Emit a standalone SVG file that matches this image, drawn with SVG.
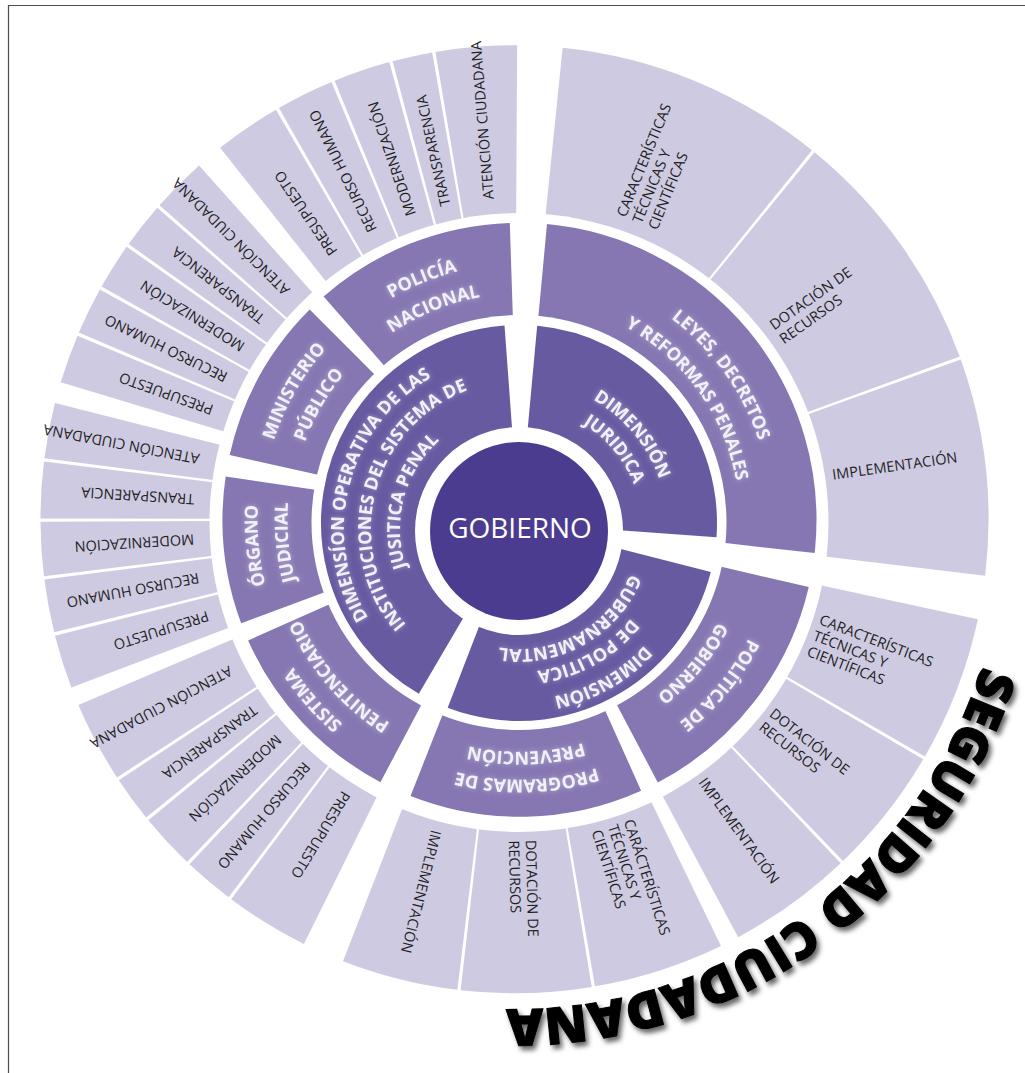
<svg xmlns="http://www.w3.org/2000/svg" width="1025" height="1073" viewBox="0 0 1025 1073">
<defs>
<style>
.r1{fill:none;stroke:#675aa1;stroke-width:104}
.r2{fill:none;stroke:#8677b2;stroke-width:94}
.r3{fill:none;stroke:#cecae2;stroke-width:174}
.lb{font-family:"Open Sans","DejaVu Sans",sans-serif;font-weight:700;font-size:18px;fill:#f2f0f8;text-anchor:middle;filter:url(#glow)}
.t3{font-family:"Open Sans","Liberation Sans",sans-serif;font-size:14.5px;fill:#1f1f1f}
.wd{fill:#fff}
</style>
<filter id="glow" x="-20%" y="-40%" width="140%" height="180%">
<feGaussianBlur in="SourceAlpha" stdDeviation="2.5" result="b"/>
<feFlood flood-color="#ffffff" flood-opacity="0.45"/>
<feComposite in2="b" operator="in" result="g"/>
<feMerge><feMergeNode in="g"/><feMergeNode in="SourceGraphic"/></feMerge>
</filter>
<filter id="shadow" x="-10%" y="-10%" width="125%" height="125%">
<feDropShadow dx="3" dy="4" stdDeviation="2.5" flood-color="#000" flood-opacity="0.6"/>
</filter>
<path id="a119" d="M638 529A119 119 0 1 1 400 529A119 119 0 1 1 638 529A119 119 0 1 1 400 529A119 119 0 1 1 638 529"/>
<path id="a120" d="M639 529A120 120 0 1 1 399 529A120 120 0 1 1 639 529A120 120 0 1 1 399 529A120 120 0 1 1 639 529"/>
<path id="a123" d="M642 529A123 123 0 1 1 396 529A123 123 0 1 1 642 529A123 123 0 1 1 396 529A123 123 0 1 1 642 529"/>
<path id="a143" d="M662 529A143 143 0 1 1 376 529A143 143 0 1 1 662 529A143 143 0 1 1 376 529A143 143 0 1 1 662 529"/>
<path id="a148" d="M667 529A148 148 0 1 1 371 529A148 148 0 1 1 667 529A148 148 0 1 1 371 529A148 148 0 1 1 667 529"/>
<path id="a149" d="M668 529A149 149 0 1 1 370 529A149 149 0 1 1 668 529A149 149 0 1 1 370 529A149 149 0 1 1 668 529"/>
<path id="a171" d="M690 529A171 171 0 1 1 348 529A171 171 0 1 1 690 529A171 171 0 1 1 348 529A171 171 0 1 1 690 529"/>
<path id="a175" d="M694 529A175 175 0 1 1 344 529A175 175 0 1 1 694 529A175 175 0 1 1 344 529A175 175 0 1 1 694 529"/>
<path id="b220" d="M739.5 519.75A220 220 0 1 1 299.5 519.75A220 220 0 1 1 739.5 519.75A220 220 0 1 1 299.5 519.75A220 220 0 1 1 739.5 519.75"/>
<path id="b223" d="M742.5 519.75A223 223 0 1 1 296.5 519.75A223 223 0 1 1 742.5 519.75A223 223 0 1 1 296.5 519.75A223 223 0 1 1 742.5 519.75"/>
<path id="b226" d="M745.5 519.75A226 226 0 1 1 293.5 519.75A226 226 0 1 1 745.5 519.75A226 226 0 1 1 293.5 519.75A226 226 0 1 1 745.5 519.75"/>
<path id="b228" d="M747.5 519.75A228 228 0 1 1 291.5 519.75A228 228 0 1 1 747.5 519.75A228 228 0 1 1 291.5 519.75A228 228 0 1 1 747.5 519.75"/>
<path id="b232" d="M751.5 519.75A232 232 0 1 1 287.5 519.75A232 232 0 1 1 751.5 519.75A232 232 0 1 1 287.5 519.75A232 232 0 1 1 751.5 519.75"/>
<path id="b241" d="M760.5 519.75A241 241 0 1 1 278.5 519.75A241 241 0 1 1 760.5 519.75A241 241 0 1 1 278.5 519.75A241 241 0 1 1 760.5 519.75"/>
<path id="b252" d="M771.5 519.75A252 252 0 1 1 267.5 519.75A252 252 0 1 1 771.5 519.75A252 252 0 1 1 267.5 519.75A252 252 0 1 1 771.5 519.75"/>
<path id="b256" d="M775.5 519.75A256 256 0 1 1 263.5 519.75A256 256 0 1 1 775.5 519.75A256 256 0 1 1 263.5 519.75A256 256 0 1 1 775.5 519.75"/>
<path id="b258" d="M777.5 519.75A258 258 0 1 1 261.5 519.75A258 258 0 1 1 777.5 519.75A258 258 0 1 1 261.5 519.75A258 258 0 1 1 777.5 519.75"/>
<path id="b260" d="M779.5 519.75A260 260 0 1 1 259.5 519.75A260 260 0 1 1 779.5 519.75A260 260 0 1 1 259.5 519.75A260 260 0 1 1 779.5 519.75"/>
<path id="b262" d="M781.5 519.75A262 262 0 1 1 257.5 519.75A262 262 0 1 1 781.5 519.75A262 262 0 1 1 257.5 519.75A262 262 0 1 1 781.5 519.75"/>
<path id="b270" d="M789.5 519.75A270 270 0 1 1 249.5 519.75A270 270 0 1 1 789.5 519.75A270 270 0 1 1 249.5 519.75A270 270 0 1 1 789.5 519.75"/>
<path id="c490" d="M1004.5 519.25A490 490 0 1 1 24.5 519.25A490 490 0 1 1 1004.5 519.25A490 490 0 1 1 24.5 519.25A490 490 0 1 1 1004.5 519.25"/>
</defs>
<rect width="1025" height="1073" fill="#fff"/>
<path d="M8.5 1073V5.5H1025" fill="none" stroke="#4d4d4d" stroke-width="1.2"/>

<!-- outer ring -->
<g id="n-leyes-caracteristicas"><circle class="r3" cx="514.5" cy="519.25" r="387" stroke-dasharray="223.17 3000" transform="rotate(-84.17 514.5 519.25)"/>
<text class="t3" transform="rotate(-67.65 514.5 519.25)"><tspan x="835.5" y="507.5">CARACTERÍSTICAS</tspan><tspan x="835.5" y="524.5">TÉCNICAS Y</tspan><tspan x="835.5" y="541.5">CIENTÍFICAS</tspan></text></g>
<g id="n-leyes-dotacion"><circle class="r3" cx="514.5" cy="519.25" r="387" stroke-dasharray="206.96 3000" transform="rotate(-50.73 514.5 519.25)"/>
<text class="t3" transform="rotate(-35.41 514.5 519.25)"><tspan x="835.5" y="516">DOTACIÓN DE</tspan><tspan x="835.5" y="533">RECURSOS</tspan></text></g>
<g id="n-leyes-implementacion"><circle class="r3" cx="514.5" cy="519.25" r="387" stroke-dasharray="179.13 3000" transform="rotate(-19.69 514.5 519.25)"/>
<text class="t3" transform="rotate(-8 514.5 519.25)" x="835.5" y="524.5">IMPLEMENTACIÓN</text></g>

<g id="n-politica-caracteristicas"><circle class="r3" cx="514.5" cy="519.25" r="387" stroke-dasharray="120.63 3000" transform="rotate(12.17 514.5 519.25)"/>
<text class="t3" transform="rotate(21.1 514.5 519.25)"><tspan x="835.5" y="507.5">CARACTERÍSTICAS</tspan><tspan x="835.5" y="524.5">TÉCNICAS Y</tspan><tspan x="835.5" y="541.5">CIENTÍFICAS</tspan></text></g>
<g id="n-politica-dotacion"><circle class="r3" cx="514.5" cy="519.25" r="387" stroke-dasharray="105.98 3000" transform="rotate(30.43 514.5 519.25)"/>
<text class="t3" transform="rotate(38.28 514.5 519.25)"><tspan x="835.5" y="516">DOTACIÓN DE</tspan><tspan x="835.5" y="533">RECURSOS</tspan></text></g>
<g id="n-politica-implementacion"><circle class="r3" cx="514.5" cy="519.25" r="387" stroke-dasharray="103.48 3000" transform="rotate(46.52 514.5 519.25)"/>
<text class="t3" transform="rotate(54.18 514.5 519.25)" x="835.5" y="524.5">IMPLEMENTACIÓN</text></g>

<g id="n-programas-caracteristicas"><circle class="r3" cx="514.5" cy="519.25" r="387" stroke-dasharray="108.34 3000" transform="rotate(64.18 514.5 519.25)"/>
<text class="t3" transform="rotate(72.2 514.5 519.25)"><tspan x="835.5" y="507.5">CARÁCTERÍSTICAS</tspan><tspan x="835.5" y="524.5">TÉCNICAS Y</tspan><tspan x="835.5" y="541.5">CIENTÍFICAS</tspan></text></g>
<g id="n-programas-dotacion"><circle class="r3" cx="514.5" cy="519.25" r="387" stroke-dasharray="107.39 3000" transform="rotate(80.62 514.5 519.25)"/>
<text class="t3" transform="rotate(88.57 514.5 519.25)"><tspan x="835.5" y="516">DOTACIÓN DE</tspan><tspan x="835.5" y="533">RECURSOS</tspan></text></g>
<g id="n-programas-implementacion"><circle class="r3" cx="514.5" cy="519.25" r="387" stroke-dasharray="96.59 3000" transform="rotate(96.92 514.5 519.25)"/>
<text class="t3" transform="rotate(104.07 514.5 519.25)" x="835.5" y="524.5">IMPLEMENTACIÓN</text></g>

<g id="n-sistema-presupuesto"><circle class="r3" cx="514.5" cy="519.25" r="387" stroke-dasharray="69.71 3000" transform="rotate(116.38 514.5 519.25)"/>
<text class="t3" transform="rotate(121.54 514.5 519.25)" x="835.5" y="524.5">PRESUPUESTO</text></g>
<g id="n-sistema-recurso"><circle class="r3" cx="514.5" cy="519.25" r="387" stroke-dasharray="41.88 3000" transform="rotate(127.1 514.5 519.25)"/>
<text class="t3" transform="rotate(130.2 514.5 519.25)" x="835.5" y="524.5">RECURSO HUMANO</text></g>
<g id="n-sistema-modernizacion"><circle class="r3" cx="514.5" cy="519.25" r="387" stroke-dasharray="46.61 3000" transform="rotate(133.7 514.5 519.25)"/>
<text class="t3" transform="rotate(137.15 514.5 519.25)" x="835.5" y="524.5">MODERNIZACIÓN</text></g>
<g id="n-sistema-transparencia"><circle class="r3" cx="514.5" cy="519.25" r="387" stroke-dasharray="37.82 3000" transform="rotate(141 514.5 519.25)"/>
<text class="t3" transform="rotate(143.8 514.5 519.25)" x="835.5" y="524.5">TRANSPARENCIA</text></g>
<g id="n-sistema-atencion"><circle class="r3" cx="514.5" cy="519.25" r="387" stroke-dasharray="67.14 3000" transform="rotate(147 514.5 519.25)"/>
<text class="t3" transform="rotate(151.97 514.5 519.25)" x="835.5" y="524.5">ATENCIÓN CIUDADANA</text></g>

<g id="n-organo-presupuesto"><circle class="r3" cx="514.5" cy="519.25" r="387" stroke-dasharray="44.58 3000" transform="rotate(159.2 514.5 519.25)"/>
<text class="t3" transform="rotate(162.5 514.5 519.25)" x="835.5" y="524.5">PRESUPUESTO</text></g>
<g id="n-organo-recurso"><circle class="r3" cx="514.5" cy="519.25" r="387" stroke-dasharray="43.9 3000" transform="rotate(166.2 514.5 519.25)"/>
<text class="t3" transform="rotate(169.45 514.5 519.25)" x="835.5" y="524.5">RECURSO HUMANO</text></g>
<g id="n-organo-modernizacion"><circle class="r3" cx="514.5" cy="519.25" r="387" stroke-dasharray="44.58 3000" transform="rotate(173.1 514.5 519.25)"/>
<text class="t3" transform="rotate(176.4 514.5 519.25)" x="835.5" y="524.5">MODERNIZACIÓN</text></g>
<g id="n-organo-transparencia"><circle class="r3" cx="514.5" cy="519.25" r="387" stroke-dasharray="46.61 3000" transform="rotate(180.1 514.5 519.25)"/>
<text class="t3" transform="rotate(183.55 514.5 519.25)" x="835.5" y="524.5">TRANSPARENCIA</text></g>
<g id="n-organo-atencion"><circle class="r3" cx="514.5" cy="519.25" r="387" stroke-dasharray="45.93 3000" transform="rotate(187.4 514.5 519.25)"/>
<text class="t3" transform="rotate(190.8 514.5 519.25)" x="835.5" y="524.5">ATENCIÓN CIUDADANA</text></g>

<g id="n-ministerio-presupuesto"><circle class="r3" cx="514.5" cy="519.25" r="387" stroke-dasharray="40.53 3000" transform="rotate(196.8 514.5 519.25)"/>
<text class="t3" transform="rotate(199.8 514.5 519.25)" x="835.5" y="524.5">PRESUPUESTO</text></g>
<g id="n-ministerio-recurso"><circle class="r3" cx="514.5" cy="519.25" r="387" stroke-dasharray="39.18 3000" transform="rotate(203.2 514.5 519.25)"/>
<text class="t3" transform="rotate(206.1 514.5 519.25)" x="835.5" y="524.5">RECURSO HUMANO</text></g>
<g id="n-ministerio-modernizacion"><circle class="r3" cx="514.5" cy="519.25" r="387" stroke-dasharray="38.5 3000" transform="rotate(209.4 514.5 519.25)"/>
<text class="t3" transform="rotate(212.25 514.5 519.25)" x="835.5" y="524.5">MODERNIZACIÓN</text></g>
<g id="n-ministerio-transparencia"><circle class="r3" cx="514.5" cy="519.25" r="387" stroke-dasharray="37.82 3000" transform="rotate(215.5 514.5 519.25)"/>
<text class="t3" transform="rotate(218.3 514.5 519.25)" x="835.5" y="524.5">TRANSPARENCIA</text></g>
<g id="n-ministerio-atencion"><circle class="r3" cx="514.5" cy="519.25" r="387" stroke-dasharray="45.93 3000" transform="rotate(221.5 514.5 519.25)"/>
<text class="t3" transform="rotate(224.9 514.5 519.25)" x="835.5" y="524.5">ATENCIÓN CIUDADANA</text></g>

<g id="n-policia-presupuesto"><circle class="r3" cx="514.5" cy="519.25" r="387" stroke-dasharray="55.39 3000" transform="rotate(231.6 514.5 519.25)"/>
<text class="t3" transform="rotate(235.7 514.5 519.25)" x="835.5" y="524.5">PRESUPUESTO</text></g>
<g id="n-policia-recurso"><circle class="r3" cx="514.5" cy="519.25" r="387" stroke-dasharray="47.96 3000" transform="rotate(240.2 514.5 519.25)"/>
<text class="t3" transform="rotate(243.75 514.5 519.25)" x="835.5" y="524.5">RECURSO HUMANO</text></g>
<g id="n-policia-modernizacion"><circle class="r3" cx="514.5" cy="519.25" r="387" stroke-dasharray="47.28 3000" transform="rotate(247.7 514.5 519.25)"/>
<text class="t3" transform="rotate(251.2 514.5 519.25)" x="835.5" y="524.5">MODERNIZACIÓN</text></g>
<g id="n-policia-transparencia"><circle class="r3" cx="514.5" cy="519.25" r="387" stroke-dasharray="33.1 3000" transform="rotate(255.1 514.5 519.25)"/>
<text class="t3" transform="rotate(257.55 514.5 519.25)" x="835.5" y="524.5">TRANSPARENCIA</text></g>
<g id="n-policia-atencion"><circle class="r3" cx="514.5" cy="519.25" r="387" stroke-dasharray="67 3000" transform="rotate(260.4 514.5 519.25)"/>
<text class="t3" transform="rotate(265.36 514.5 519.25)" x="835.5" y="524.5">ATENCIÓN CIUDADANA</text></g>

<circle class="wd" cx="519" cy="522.5" r="309.5"/>

<!-- middle ring -->
<g id="n-leyes"><circle class="r2" cx="519.5" cy="519.75" r="250" stroke-dasharray="397.59 3000" transform="rotate(-84.69 519.5 519.75)"/>
<text class="lb"><textPath href="#b252" startOffset="1425.91">LEYES, DECRETOS</textPath></text>
<text class="lb"><textPath href="#b220" startOffset="1244.84">Y REFORMAS PENALES</textPath></text></g>
<g id="n-politica-gobierno"><circle class="r2" cx="519.5" cy="519.75" r="250" stroke-dasharray="214.28 3000" transform="rotate(13.11 519.5 519.75)"/>
<text class="lb"><textPath href="#b258" startOffset="1798.93">POLÍTICA DE</textPath></text>
<text class="lb"><textPath href="#b223" startOffset="1554.89">GOBIERNO</textPath></text></g>
<g id="n-programas"><circle class="r2" cx="519.5" cy="519.75" r="250" stroke-dasharray="199.36 3000" transform="rotate(65.82 519.5 519.75)"/>
<text class="lb"><textPath href="#b260" startOffset="2033.87">PROGRAMAS DE</textPath></text>
<text class="lb"><textPath href="#b232" startOffset="1814.84">PREVENCIÓN</textPath></text></g>
<g id="n-sistema-penitenciario"><circle class="r2" cx="519.5" cy="519.75" r="250" stroke-dasharray="166.24 3000" transform="rotate(117.92 519.5 519.75)"/>
<text class="lb"><textPath href="#b270" startOffset="2350.54">SISTEMA</textPath></text>
<text class="lb"><textPath href="#b241" startOffset="2098.07">PENITENCIARIO</textPath></text></g>
<g id="n-organo-judicial"><circle class="r2" cx="519.5" cy="519.75" r="250" stroke-dasharray="125.53 3000" transform="rotate(159.58 519.5 519.75)"/>
<text class="lb"><textPath href="#b262" startOffset="2443.23">ÓRGANO</textPath></text>
<text class="lb"><textPath href="#b232" startOffset="2163.47">JUDICIAL</textPath></text></g>
<g id="n-ministerio-publico"><circle class="r2" cx="519.5" cy="519.75" r="250" stroke-dasharray="141.63 3000" transform="rotate(192.58 519.5 519.75)"/>
<text class="lb"><textPath href="#b258" startOffset="2564.88">MINISTERIO</textPath></text>
<text class="lb"><textPath href="#b228" startOffset="2266.64">PÚBLICO</textPath></text></g>
<g id="n-policia-nacional"><circle class="r2" cx="519.5" cy="519.75" r="250" stroke-dasharray="171.78 3000" transform="rotate(228.74 519.5 519.75)"/>
<text class="lb"><textPath href="#b256" startOffset="2715.23">POLICÍA</textPath></text>
<text class="lb"><textPath href="#b226" startOffset="2397.04">NACIONAL</textPath></text></g>

<circle class="wd" cx="519" cy="522.5" r="207.5"/>

<!-- inner ring -->
<g id="n-dimension-juridica"><circle class="r1" cx="519" cy="523" r="146" stroke-dasharray="226.35 3000" transform="rotate(-84.73 519 523)"/>
<text class="lb"><textPath href="#a149" startOffset="832.17">DIMENSIÓN</textPath></text>
<text class="lb"><textPath href="#a123" startOffset="686.96">JURIDICA</textPath></text></g>
<g id="n-dimension-politica"><circle class="r1" cx="519" cy="523" r="146" stroke-dasharray="246.51 3000" transform="rotate(14.35 519 523)"/>
<text class="lb"><textPath href="#a171" startOffset="1254.99">DIMENSIÓN</textPath></text>
<text class="lb"><textPath href="#a143" startOffset="1049.49">DE POLITICA</textPath></text>
<text class="lb"><textPath href="#a120" startOffset="880.69">GUBERNAMENTAL</textPath></text></g>
<g id="n-dimension-operativa"><circle class="r1" cx="519" cy="523" r="146" stroke-dasharray="370.38 3000" transform="rotate(120.39 519 523)"/>
<text class="lb"><textPath href="#a175" startOffset="1693.62">DIMENSÍON OPERATIVA DE LAS</textPath></text>
<text class="lb"><textPath href="#a148" startOffset="1432.32">INSTITUCIONES DEL SISTEMA DE</textPath></text>
<text class="lb"><textPath href="#a119" startOffset="1151.66">JUSITICA PENAL</textPath></text></g>

<circle class="wd" cx="519" cy="531" r="104"/>

<g id="n-gobierno"><circle cx="519" cy="531" r="89" fill="#4b3c8f"/>
<text x="520" y="538" font-family="'Open Sans','Liberation Sans',sans-serif" font-size="28" fill="#ffffff" text-anchor="middle">GOBIERNO</text></g>

<g id="title"><text font-family="'Open Sans','DejaVu Sans',sans-serif" font-weight="800" font-size="51" fill="#000" stroke="#000" stroke-width="1" text-anchor="middle" filter="url(#shadow)"><textPath href="#c490" startOffset="3541.86">SEGURIDAD CIUDADANA</textPath></text></g>
</svg>
